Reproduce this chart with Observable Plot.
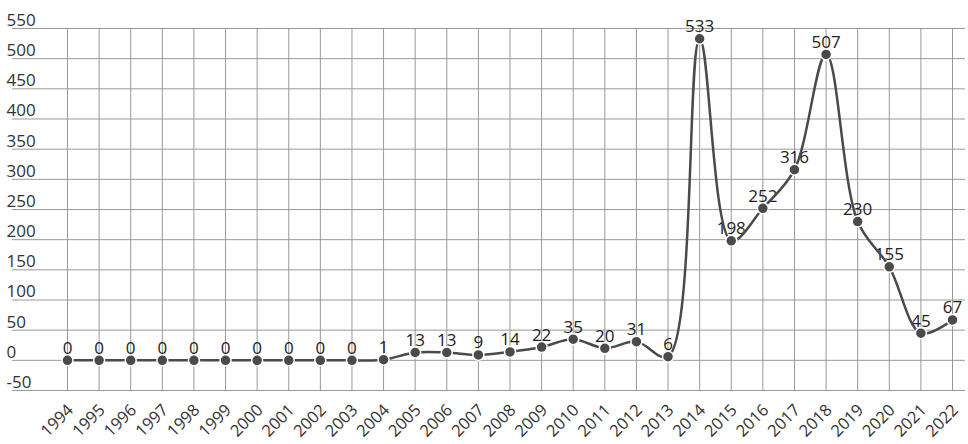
<!DOCTYPE html>
<html>
<head>
<meta charset="utf-8">
<script src="https://cdn.jsdelivr.net/npm/d3@7"></script>
<script src="https://cdn.jsdelivr.net/npm/@observablehq/plot@0.6"></script>
<style>
  html, body { margin: 0; padding: 0; background: #fff; }
  #chart svg { display: block; }
</style>
</head>
<body>
<div id="chart"></div>
<script>
const years = [1994,1995,1996,1997,1998,1999,2000,2001,2002,2003,2004,2005,2006,2007,2008,2009,2010,2011,2012,2013,2014,2015,2016,2017,2018,2019,2020,2021,2022];
const values = [0,0,0,0,0,0,0,0,0,0,1,13,13,9,14,22,35,20,31,6,533,198,252,316,507,230,155,45,67];
const yTicks = [-50,0,50,100,150,200,250,300,350,400,450,500,550];

const data = years.map((y, i) => ({year: y, value: values[i]}));

const font = "'Open Sans', 'Noto Sans', sans-serif";
const lineColor = "#4a4a4a";
const gridColor = "#999999";

const chart = Plot.plot({
  width: 968,
  height: 444,
  marginLeft: 67,
  marginRight: 16,
  marginTop: 28,
  marginBottom: 54,
  style: {fontFamily: font, fontSize: "17px", color: "#333", background: "#fff"},
  x: {type: "linear", domain: [1994, 2022]},
  y: {domain: [-50, 550]},
  marks: [
    Plot.ruleY(yTicks, {stroke: gridColor, strokeWidth: 1, insetLeft: -55, insetRight: -13}),
    Plot.ruleX(years, {stroke: gridColor, strokeWidth: 1}),
    Plot.axisY({ticks: yTicks, tickFormat: d => String(d), tickSize: 0, textAnchor: "start", dx: -52, dy: -8, label: null, fontSize: 17, fill: "#333"}),
    Plot.axisX({ticks: years, tickFormat: d => String(d), tickSize: 0, tickRotate: -45, label: null, fontSize: 16.5, fill: "#333", dx: 3, dy: 5}),
    Plot.text(data, {x: "year", y: "value", text: d => String(d.value), dy: -12, fontSize: 17, fill: "#222"}),
    Plot.line(data, {x: "year", y: "value", curve: "catmull-rom", stroke: lineColor, strokeWidth: 2.5}),
    Plot.dot(data, {x: "year", y: "value", r: 5.5, fill: lineColor, stroke: "#fff", strokeWidth: 1.5})
  ]
});

document.getElementById("chart").appendChild(chart);
</script>
</body>
</html>
